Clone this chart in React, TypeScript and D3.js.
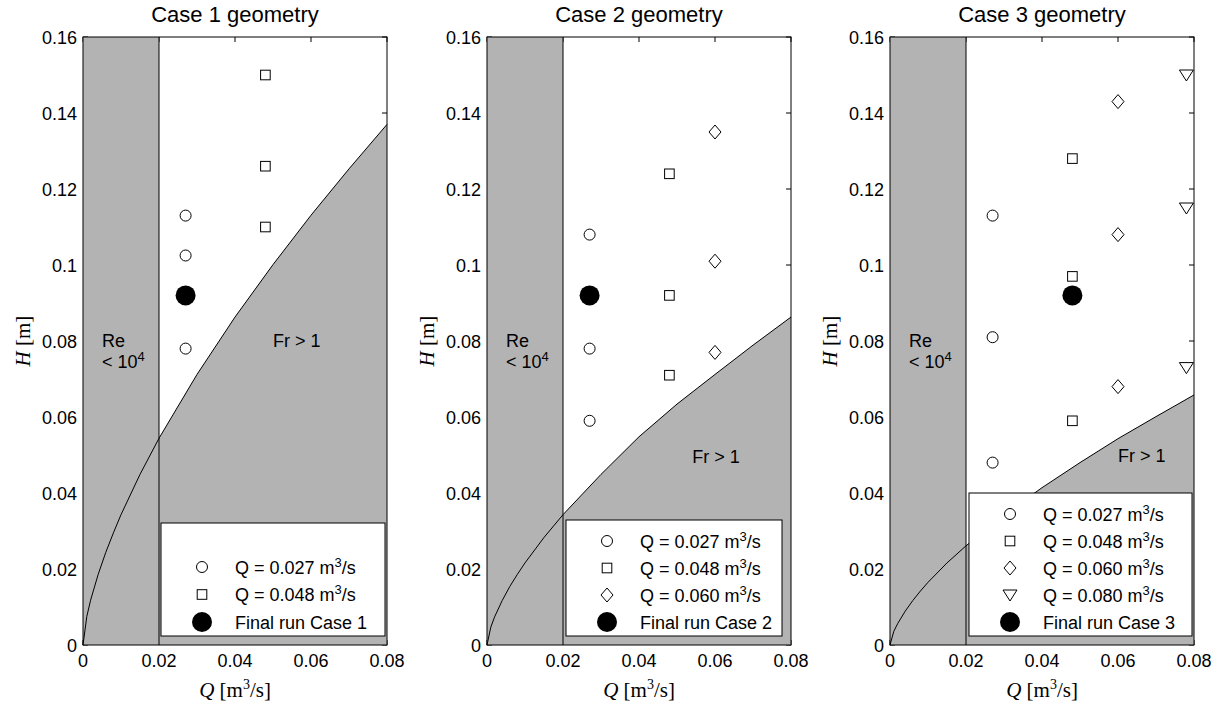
import React from "react";
import * as d3 from "d3";

// Geometry cases and the Froude-number boundary H(Q) for each
const caseTitles = ["Case 1 geometry", "Case 2 geometry", "Case 3 geometry"];
const finalRunLabels = ["Final run Case 1", "Final run Case 2", "Final run Case 3"];

const boundaryQ = [0, 0.001, 0.002, 0.004, 0.006, 0.008, 0.01, 0.015, 0.02, 0.03, 0.04, 0.05, 0.06, 0.07, 0.08];
const boundaryH1 = [0, 0.0075, 0.0118, 0.0186, 0.0244, 0.0295, 0.0343, 0.0449, 0.0544, 0.0712, 0.0863, 0.1001, 0.1131, 0.1253, 0.137];
const boundaryH2 = [0, 0.0047, 0.0074, 0.0117, 0.0154, 0.0186, 0.0216, 0.0283, 0.0343, 0.0449, 0.0548, 0.0634, 0.0712, 0.0789, 0.0863];
const boundaryH3 = [0, 0.0036, 0.0056, 0.0089, 0.0117, 0.0142, 0.0165, 0.0216, 0.0261, 0.0342, 0.0414, 0.048, 0.0543, 0.0601, 0.0658];

// Reynolds limit
const reLimitQ = 0.02;

// Discharge of each series (plotted position) and legend text
const seriesQ = [0.027, 0.048, 0.06, 0.078];
const seriesLabels = ["0.027", "0.048", "0.060", "0.080"];
const seriesSymbols = ["circle", "square", "diamond", "triangle"];

// Measured heads per case and discharge series
const case1H = [
  [0.113, 0.1025, 0.078],
  [0.15, 0.126, 0.11],
];
const case2H = [
  [0.108, 0.078, 0.059],
  [0.124, 0.092, 0.071],
  [0.135, 0.101, 0.077],
];
const case3H = [
  [0.113, 0.081, 0.048],
  [0.128, 0.097, 0.059],
  [0.143, 0.108, 0.068],
  [0.15, 0.115, 0.073],
];

// Final run point per case
const finalQ = [0.027, 0.027, 0.048];
const finalH = [0.092, 0.092, 0.092];

// Axis ticks
const xTicks = [0, 0.02, 0.04, 0.06, 0.08];
const yTicks = [0, 0.02, 0.04, 0.06, 0.08, 0.1, 0.12, 0.14, 0.16];
const xTickLabels = ["0", "0.02", "0.04", "0.06", "0.08"];
const yTickLabels = ["0", "0.02", "0.04", "0.06", "0.08", "0.1", "0.12", "0.14", "0.16"];

// Region annotations (data coordinates of text anchor)
const frTextQ = [0.05, 0.054, 0.06];
const frTextH = [0.0784, 0.0479, 0.0482];

const boundaries = [boundaryH1, boundaryH2, boundaryH3];
const caseH = [case1H, case2H, case3H];

const PLOT_W = 304;
const PLOT_H = 608;
const TOP = 37;
const LEFTS = [83, 487, 890];
const LEGEND_LEFT = [161, 566, 969];
const LEGEND_RIGHT = [385, 782, 1192];
const LEGEND_TOP = [523, 520, 493];
const GRAY = "#b3b3b3";
const SANS = "'Liberation Sans', Arial, Helvetica, sans-serif";
const SERIF = "'Liberation Serif', 'Times New Roman', serif";

const x = d3.scaleLinear().domain([0, 0.08]).range([0, PLOT_W]);
const y = d3.scaleLinear().domain([0, 0.16]).range([PLOT_H, 0]);

function Marker({ type, cx, cy }: { type: string; cx: number; cy: number }) {
  const common = { fill: "none", stroke: "#000", strokeWidth: 1 };
  if (type === "circle") return <circle cx={cx} cy={cy} r={5.5} {...common} />;
  if (type === "square") return <rect x={cx - 4.8} y={cy - 4.8} width={9.6} height={9.6} {...common} />;
  if (type === "diamond")
    return <path d={`M${cx},${cy - 7}L${cx + 6},${cy}L${cx},${cy + 7}L${cx - 6},${cy}Z`} {...common} />;
  if (type === "triangle")
    return <path d={`M${cx - 7},${cy - 5}L${cx + 7},${cy - 5}L${cx},${cy + 6}Z`} {...common} />;
  return <circle cx={cx} cy={cy} r={10} fill="#000" />;
}

function Panel({ idx }: { idx: number }) {
  const left = LEFTS[idx];
  const hs = boundaries[idx];
  const pts: [number, number][] = boundaryQ.map((q, i) => [q, hs[i]]);
  const line = d3.line<[number, number]>().x((d) => x(d[0])).y((d) => y(d[1]));
  const area = d3
    .area<[number, number]>()
    .x((d) => x(d[0]))
    .y0(PLOT_H)
    .y1((d) => y(d[1]));
  const series = caseH[idx];
  const nRows = series.length + 1;
  const lastRow = 622;
  const lgTop = LEGEND_TOP[idx];
  const firstRow = idx === 0 ? 567 : lgTop + 21;
  const rowGap = (lastRow - firstRow) / (nRows - 1);
  const lgBottom = 636;
  const lgLeft = LEGEND_LEFT[idx];
  const lgRight = LEGEND_RIGHT[idx];
  const cx = left + PLOT_W / 2;

  return (
    <g>
      <text x={cx} y={22} textAnchor="middle" fontFamily={SANS} fontSize={22}>
        {caseTitles[idx]}
      </text>
      <g transform={`translate(${left},${TOP})`}>
        <rect x={0} y={0} width={PLOT_W} height={PLOT_H} fill="#fff" />
        {/* inward ticks on all four sides */}
        {xTicks.map((t) => (
          <g key={"xt" + t}>
            <line x1={x(t)} x2={x(t)} y1={PLOT_H} y2={PLOT_H - 5} stroke="#000" />
            <line x1={x(t)} x2={x(t)} y1={0} y2={5} stroke="#000" />
          </g>
        ))}
        {yTicks.map((t) => (
          <g key={"yt" + t}>
            <line x1={0} x2={5} y1={y(t)} y2={y(t)} stroke="#000" />
            <line x1={PLOT_W} x2={PLOT_W - 5} y1={y(t)} y2={y(t)} stroke="#000" />
          </g>
        ))}
        {/* low Reynolds strip and supercritical region */}
        <rect x={0} y={0} width={x(reLimitQ)} height={PLOT_H} fill={GRAY} />
        <path d={area(pts) || ""} fill={GRAY} />
        <line x1={x(reLimitQ)} x2={x(reLimitQ)} y1={0} y2={PLOT_H} stroke="#000" strokeWidth={1} />
        <path d={line(pts) || ""} fill="none" stroke="#000" strokeWidth={1} />
        <rect x={0} y={0} width={PLOT_W} height={PLOT_H} fill="none" stroke="#000" strokeWidth={1} />

        <text x={x(0.005)} y={y(0.0784)} fontFamily={SANS} fontSize={18}>
          Re
        </text>
        <text x={x(0.005)} y={y(0.0729)} fontFamily={SANS} fontSize={18}>
          {"< 10"}
          <tspan dy={-7} fontSize={13}>
            4
          </tspan>
        </text>
        <text x={x(frTextQ[idx])} y={y(frTextH[idx])} fontFamily={SANS} fontSize={18}>
          {"Fr > 1"}
        </text>

        {series.map((vals, si) =>
          vals.map((h, k) => (
            <Marker key={`m${si}-${k}`} type={seriesSymbols[si]} cx={x(seriesQ[si])} cy={y(h)} />
          ))
        )}
        <Marker type="filled" cx={x(finalQ[idx])} cy={y(finalH[idx])} />
      </g>

      {/* tick labels */}
      {xTickLabels.map((lab, i) => (
        <text key={"xl" + i} x={left + x(xTicks[i])} y={TOP + PLOT_H + 22} textAnchor="middle" fontFamily={SANS} fontSize={18}>
          {lab}
        </text>
      ))}
      {yTickLabels.map((lab, i) => (
        <text key={"yl" + i} x={left - 6} y={TOP + y(yTicks[i]) + 6.5} textAnchor="end" fontFamily={SANS} fontSize={18}>
          {lab}
        </text>
      ))}

      {/* axis titles */}
      <text x={cx} y={697} textAnchor="middle" fontFamily={SERIF} fontSize={21}>
        <tspan fontStyle="italic">Q</tspan>
        {"  [m"}
        <tspan dy={-8} fontSize={14}>
          3
        </tspan>
        <tspan dy={8}>/s]</tspan>
      </text>
      <text
        transform={`translate(${left - 53},${TOP + PLOT_H / 2}) rotate(-90)`}
        textAnchor="middle"
        fontFamily={SERIF}
        fontSize={21}
      >
        <tspan fontStyle="italic">H</tspan>
        {"  [m]"}
      </text>

      {/* legend */}
      <rect x={lgLeft} y={lgTop} width={lgRight - lgLeft} height={lgBottom - lgTop} fill="#fff" stroke="#000" strokeWidth={1} />
      {series.map((_, si) => {
        const ry = firstRow + si * rowGap;
        return (
          <g key={"lg" + si}>
            <Marker type={seriesSymbols[si]} cx={lgLeft + 41} cy={ry} />
            <text x={lgLeft + 74} y={ry + 6.5} fontFamily={SANS} fontSize={18}>
              {`Q = ${seriesLabels[si]} m`}
              <tspan dy={-7} fontSize={13}>
                3
              </tspan>
              <tspan dy={7}>/s</tspan>
            </text>
          </g>
        );
      })}
      <Marker type="filled" cx={lgLeft + 41} cy={lastRow} />
      <text x={lgLeft + 74} y={lastRow + 6.5} fontFamily={SANS} fontSize={18}>
        {finalRunLabels[idx]}
      </text>
    </g>
  );
}

export default function App() {
  return (
    <svg
      width={1228}
      height={709}
      viewBox="0 0 1228 709"
      style={{ position: "absolute", left: 0, top: 0, background: "#fff" }}
    >
      <rect width={1228} height={709} fill="#fff" />
      {[0, 1, 2].map((i) => (
        <Panel key={i} idx={i} />
      ))}
    </svg>
  );
}
